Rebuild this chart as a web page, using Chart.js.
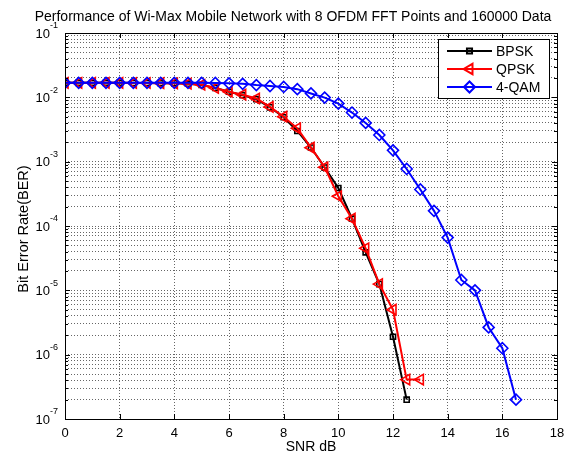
<!DOCTYPE html>
<html><head><meta charset="utf-8">
<script src="https://cdn.jsdelivr.net/npm/chart.js@4/dist/chart.umd.min.js"></script>
<style>html,body{margin:0;padding:0;background:#fff;}</style>
</head><body>
<canvas id="c" width="576" height="459" style="width:576px;height:459px;display:block"></canvas>
<script>
// ---- data ----
const snr = [0,0.5,1,1.5,2,2.5,3,3.5,4,4.5,5,5.5,6,6.5,7,7.5,8,8.5,9,9.5,10,10.5,11,11.5,12,12.5,13,13.5,14,14.5,15,15.5,16,16.5];
const bpsk = [1.68e-2,1.68e-2,1.68e-2,1.68e-2,1.68e-2,1.67e-2,1.67e-2,1.66e-2,1.65e-2,1.63e-2,
              1.56e-2,1.40e-2,1.22e-2,1.08e-2,9.4e-3,7.0e-3,4.9e-3,3.0e-3,1.66e-3,8.1e-4,
              3.9e-4,1.3e-4,3.9e-5,1.25e-5,1.9e-6,2.0e-7];
const qpsk = [1.68e-2,1.68e-2,1.68e-2,1.68e-2,1.68e-2,1.67e-2,1.67e-2,1.66e-2,1.65e-2,1.63e-2,
              1.57e-2,1.40e-2,1.22e-2,1.10e-2,9.6e-3,7.1e-3,5.0e-3,3.3e-3,1.65e-3,8.2e-4,
              2.9e-4,1.3e-4,4.5e-5,1.25e-5,5.0e-6,4.1e-7,4.1e-7];
const qam4 = [1.68e-2,1.68e-2,1.68e-2,1.68e-2,1.68e-2,1.68e-2,1.68e-2,1.68e-2,1.68e-2,1.68e-2,
              1.68e-2,1.67e-2,1.65e-2,1.62e-2,1.55e-2,1.50e-2,1.45e-2,1.34e-2,1.15e-2,9.9e-3,
              8.0e-3,5.8e-3,4.0e-3,2.6e-3,1.5e-3,7.7e-4,3.7e-4,1.72e-4,6.6e-5,1.45e-5,
              1.0e-5,2.65e-6,1.26e-6,2.0e-7];
const seriesNames = ['BPSK','QPSK','4-QAM'];
const xTicks = [0,2,4,6,8,10,12,14,16,18];
const yDecades = [-7,-6,-5,-4,-3,-2,-1];
const titleText = 'Performance of Wi-Max Mobile Network with 8 OFDM FFT Points and 160000 Data';
const xTitle = 'SNR dB';
const yTitle = 'Bit Error Rate(BER)';

const pts = (ys) => ys.map((v,i) => ({x: snr[i], y: v}));
const FONT = 'Arial, "Liberation Sans", sans-serif';

const styles = [
  {color:'#000000', pointStyle:'rect', radius:3.6, rotation:0},
  {color:'#ff0000', pointStyle:'triangle', radius:6, rotation:-90},
  {color:'#0000ff', pointStyle:'rectRot', radius:5.5, rotation:0}
];
const allSeries = [bpsk, qpsk, qam4];

const datasets = allSeries.map((ys, i) => ({
  label: seriesNames[i],
  data: pts(ys),
  borderColor: styles[i].color,
  backgroundColor: 'rgba(0,0,0,0)',
  borderWidth: 2,
  pointStyle: styles[i].pointStyle,
  pointRadius: styles[i].radius,
  pointRotation: styles[i].rotation,
  pointBorderColor: styles[i].color,
  pointBackgroundColor: 'rgba(0,0,0,0)',
  pointBorderWidth: 1.6,
  tension: 0,
  order: 2 - i
}));

const decorPlugin = {
  id: 'decor',
  afterDraw(chart) {
    const ctx = chart.ctx;
    const a = chart.chartArea;
    const xs = chart.scales.x, ys = chart.scales.y;
    ctx.save();
    // box
    ctx.strokeStyle = '#000'; ctx.lineWidth = 1;
    ctx.strokeRect(Math.round(a.left)+0.5, Math.round(a.top)+0.5, Math.round(a.right-a.left), Math.round(a.bottom-a.top));
    // inward ticks
    ctx.beginPath();
    xTicks.forEach(t => {
      const px = Math.round(xs.getPixelForValue(t)) + 0.5;
      ctx.moveTo(px, a.bottom); ctx.lineTo(px, a.bottom - 5);
      ctx.moveTo(px, a.top); ctx.lineTo(px, a.top + 5);
    });
    yDecades.forEach(d => {
      for (let m = 1; m <= 9; m++) {
        if (d === -1 && m > 1) break;
        const v = m * Math.pow(10, d);
        const py = Math.round(ys.getPixelForValue(v)) + 0.5;
        const len = m === 1 ? 5 : 3;
        ctx.moveTo(a.left, py); ctx.lineTo(a.left + len, py);
        ctx.moveTo(a.right, py); ctx.lineTo(a.right - len, py);
      }
    });
    ctx.stroke();
    // y tick labels 10^n
    ctx.fillStyle = '#000';
    ctx.textBaseline = 'middle';
    yDecades.forEach(d => {
      const py = ys.getPixelForValue(Math.pow(10, d));
      const exp = String(d);
      ctx.font = '9px ' + FONT;
      const ew = ctx.measureText(exp).width;
      ctx.textAlign = 'left';
      const expX = a.left - 7 - ew;
      ctx.fillText(exp, expX, py - 7);
      ctx.font = '13px ' + FONT;
      ctx.textAlign = 'right';
      ctx.fillText('10', expX, py + 1);
    });
    // title
    ctx.font = '14px ' + FONT;
    ctx.textAlign = 'center';
    ctx.textBaseline = 'alphabetic';
    ctx.fillText(titleText, 293, 21);
    // x title
    ctx.fillText(xTitle, (a.left + a.right) / 2, 451);
    // y title
    ctx.save();
    ctx.font = '14.5px ' + FONT;
    ctx.translate(28, 229);
    ctx.rotate(-Math.PI / 2);
    ctx.fillText(yTitle, 0, 0);
    ctx.restore();
    // legend
    const L = {x: 438, y: 39, w: 111, h: 59};
    ctx.fillStyle = '#fff';
    ctx.fillRect(L.x, L.y, L.w, L.h);
    ctx.strokeStyle = '#000'; ctx.lineWidth = 1;
    ctx.strokeRect(L.x + 0.5, L.y + 0.5, L.w, L.h);
    const rows = [51, 69, 87];
    seriesNames.forEach((name, i) => {
      const y = rows[i];
      ctx.strokeStyle = styles[i].color; ctx.lineWidth = 2;
      ctx.beginPath(); ctx.moveTo(447, y); ctx.lineTo(492, y); ctx.stroke();
      ctx.fillStyle = 'rgba(0,0,0,0)';
      Chart.helpers.drawPoint(ctx, {pointStyle: styles[i].pointStyle, radius: styles[i].radius, rotation: styles[i].rotation, borderWidth: 1.6}, 469.5, y);
      ctx.fillStyle = '#000';
      ctx.font = '14px ' + FONT;
      ctx.textAlign = 'left'; ctx.textBaseline = 'middle';
      ctx.fillText(name, 496, y + 1);
    });
    ctx.restore();
  }
};

new Chart(document.getElementById('c'), {
  type: 'line',
  data: { datasets },
  options: {
    responsive: false,
    animation: false,
    devicePixelRatio: 1,
    layout: { padding: { top: 33, right: 19, left: 0, bottom: 0 } },
    plugins: { legend: { display: false }, tooltip: { enabled: false }, title: { display: false } },
    scales: {
      x: {
        type: 'linear', min: 0, max: 18,
        afterBuildTicks: s => { s.ticks = xTicks.map(v => ({value: v})); },
        afterFit: s => { s.height = 40; },
        ticks: { color: '#000', font: { size: 13, family: FONT }, padding: 7, maxRotation: 0, autoSkip: false },
        grid: { color: 'rgba(0,0,0,0.6)', lineWidth: 1, drawTicks: false },
        border: { display: false, dash: [1, 2] }
      },
      y: {
        type: 'logarithmic', min: 1e-7, max: 1e-1,
        afterBuildTicks: s => {
          const t = [];
          yDecades.forEach(d => { for (let m = 1; m <= 9; m++) { if (d === -1 && m > 1) break; t.push({value: m * Math.pow(10, d)}); } });
          s.ticks = t;
        },
        afterFit: s => { s.width = 65; },
        ticks: { display: false },
        grid: { color: 'rgba(0,0,0,0.6)', lineWidth: 1, drawTicks: false },
        border: { display: false, dash: [1, 2] }
      }
    }
  },
  plugins: [decorPlugin]
});
</script>
</body></html>
